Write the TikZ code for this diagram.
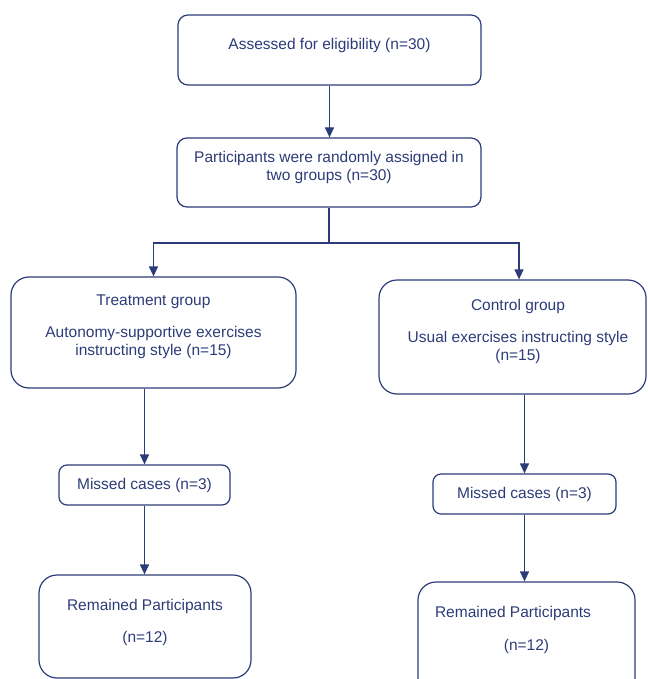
\documentclass[tikz,border=0pt]{standalone}
\usepackage{fontspec}
\setmainfont{Liberation Sans}
\usetikzlibrary{arrows.meta}
\definecolor{navy}{RGB}{44,60,120}

\tikzset{
  box/.style={draw=navy, line width=1.2pt, text=navy, rounded corners=10pt,
    align=center, inner sep=0pt, font=\fontsize{15.5}{18}\selectfont},
  bigbox/.style={box, rounded corners=18pt},
  link/.style={draw=navy, line width=1.2pt},
  arr/.style={link, -{Triangle[length=10pt,width=9pt]}}
}

\begin{document}
\begin{tikzpicture}[x=1pt,y=-1pt]
  \clip (0,0) rectangle (647,679);
  % Top boxes
  \node[box, minimum width=303pt, minimum height=70pt, text depth=13pt]
    (assess) at (329.5,50) {Assessed for eligibility (n=30)};
  \node[box, minimum width=304pt, minimum height=69pt, text depth=13pt]
    (random) at (329,172.5) {Participants were randomly assigned in\\two groups (n=30)};
  % Groups
  \node[bigbox, minimum width=285pt, minimum height=111pt, text depth=15pt]
    (treat) at (153.5,332.5) {Treatment group\\[14pt]Autonomy-supportive exercises\\instructing style (n=15)};
  \node[bigbox, minimum width=267pt, minimum height=114pt, text depth=14pt]
    (control) at (512.5,337) {\hspace*{11pt}Control group\\[14pt]\hspace*{11pt}Usual exercises instructing style\\\hspace*{11pt}(n=15)};
  % Missed cases
  \node[box, rounded corners=8pt, minimum width=171pt, minimum height=40pt]
    (miss1) at (144.5,485) {Missed cases (n=3)};
  \node[box, rounded corners=8pt, minimum width=183pt, minimum height=40pt]
    (miss2) at (524.5,494) {Missed cases (n=3)};
  % Remained
  \node[bigbox, minimum width=212pt, minimum height=103pt, text depth=11pt]
    (rem1) at (145,626.5) {Remained Participants\\[14pt](n=12)};
  \node[bigbox, minimum width=217pt, minimum height=114pt, text depth=21pt]
    (rem2) at (526.5,639) {\hspace*{-27pt}Remained Participants\\[15pt](n=12)};

  % Connectors
  \draw[arr] (assess.south) -- (assess.south |- random.north);
  \coordinate (split) at (329,243);
  \draw[link] (random.south) -- (split);
  \draw[arr] (split) -| (treat.north);
  \draw[arr] (split) -| ([xshift=6.5pt]control.north);
  \draw[arr] (treat.south -| miss1.north) -- (miss1.north);
  \draw[arr] (miss1.south) -- (miss1.south |- rem1.north);
  \draw[arr] (control.south -| miss2.north) -- (miss2.north);
  \draw[arr] (miss2.south) -- (miss2.south |- rem2.north);
\end{tikzpicture}
\end{document}
